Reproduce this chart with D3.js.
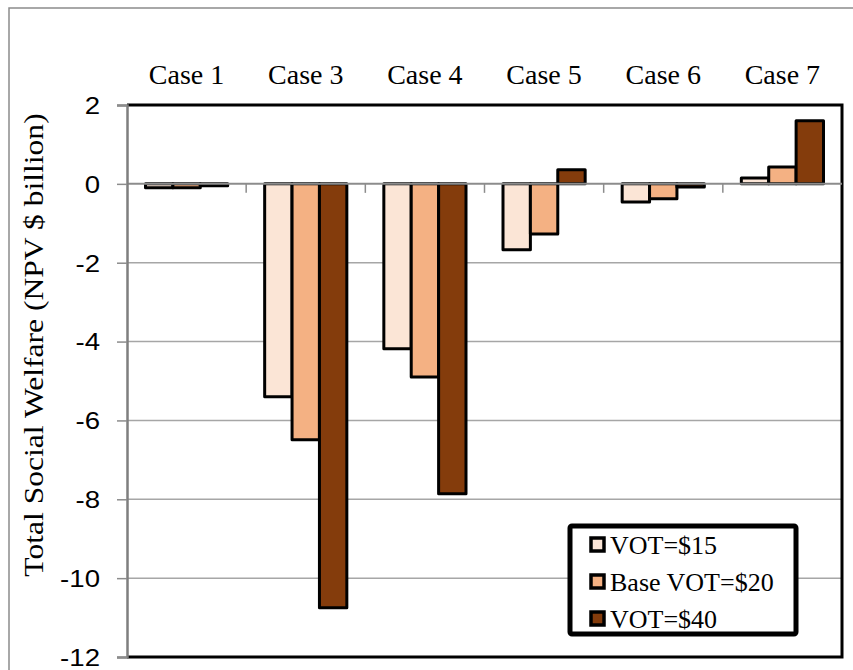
<!DOCTYPE html>
<html><head><meta charset="utf-8">
<script src="https://cdn.jsdelivr.net/npm/d3@7"></script>
<style>
body{margin:0;background:#fff}svg{display:block}
.serif{font-family:"Liberation Serif","Times New Roman",Times,Tinos,"DejaVu Serif",serif;}
.sans{font-family:"Liberation Sans",Arial,Helvetica,sans-serif;}
</style>
</head><body>
<svg id="chart" width="853" height="670"></svg>
<script>
const cases = ["Case 1","Case 3","Case 4","Case 5","Case 6","Case 7"];
const seriesNames = ["VOT=$15","Base VOT=$20","VOT=$40"];
const vot15 = [-0.1, -5.40, -4.18, -1.67, -0.46, 0.15];
const vot20 = [-0.1, -6.49, -4.90, -1.27, -0.38, 0.43];
const vot40 = [-0.05, -10.75, -7.86, 0.36, -0.08, 1.60];
const colors = ["#FBE5D6","#F4B183","#843C0C"];
const yTicks = [2,0,-2,-4,-6,-8,-10,-12];

const svg = d3.select("#chart");
const L = 127, R = 842, T = 105, B = 657;
const x0 = d3.scaleBand().domain(cases).range([L,R]).padding(0);
const x1 = d3.scaleBand().domain(seriesNames).range([18.5, x0.bandwidth()-18.5]).padding(0);
const y = d3.scaleLinear().domain([-12,2]).range([B,T]);
const data = [vot15, vot20, vot40];

// outer frame (only top and left edges fall inside the picture)
svg.append("path").attr("d","M9,670V8H853")
  .attr("fill","none").attr("stroke","#8c8c8c").attr("stroke-width",1.5);

// gridlines
svg.append("g").selectAll("line").data(yTicks.filter(d=>d<0 && d>-12)).join("line")
  .attr("x1",L).attr("x2",R).attr("y1",d=>y(d)).attr("y2",d=>y(d))
  .attr("stroke","#a6a6a6").attr("stroke-width",1.5);

// plot border top/right/bottom
svg.append("path").attr("d",`M${L},${T}H${R}V${B}H${L}`).attr("fill","none")
  .attr("stroke","#000").attr("stroke-width",3);

// bars
const bars = [];
cases.forEach((c,i)=>seriesNames.forEach((s,j)=>bars.push({c,s,j,v:data[j][i]})));
svg.append("g").selectAll("rect").data(bars).join("rect")
  .attr("x",d=>x0(d.c)+x1(d.s))
  .attr("width",x1.bandwidth())
  .attr("y",d=>Math.min(y(d.v),y(0)))
  .attr("height",d=>Math.abs(y(d.v)-y(0)))
  .attr("fill",d=>colors[d.j])
  .attr("stroke","#000").attr("stroke-width",3).attr("stroke-linejoin","round");

// zero axis line with category ticks
svg.append("line").attr("x1",L).attr("x2",R).attr("y1",y(0)).attr("y2",y(0))
  .attr("stroke","#8c8c8c").attr("stroke-width",2);
const bounds = cases.slice(1).map(c=>x0(c));
svg.append("g").selectAll("line").data(bounds).join("line")
  .attr("x1",d=>d).attr("x2",d=>d).attr("y1",y(0)).attr("y2",y(0)+9)
  .attr("stroke","#8c8c8c").attr("stroke-width",1.5);

// y axis
const yAxis = d3.axisLeft(y).tickValues(yTicks).tickSize(10).tickPadding(17).tickFormat(d3.format("d"));
const ga = svg.append("g").attr("transform",`translate(${L},0)`).call(yAxis);
ga.attr("font-family",null).attr("font-size",null);
ga.select(".domain").attr("stroke","#7f7f7f").attr("stroke-width",2.5);
ga.selectAll(".tick line").attr("stroke","#8c8c8c").attr("stroke-width",1.5);
ga.selectAll(".tick text").attr("class","sans")
  .attr("x",0).attr("transform","translate(-27,0) scale(1.15,1)")
  .attr("font-size",24).attr("fill","#000").attr("dy","0.35em")
  .text(d=>d<0 ? "-"+Math.abs(d) : d);

// case labels on top
svg.append("g").selectAll("text").data(cases).join("text")
  .attr("class","serif")
  .attr("x",d=>x0(d)+x0.bandwidth()/2).attr("y",84)
  .attr("text-anchor","middle")
  .attr("font-size",28).attr("fill","#000").text(d=>d);

// y title
svg.append("text").attr("class","serif").attr("transform","translate(43,345) rotate(-90) scale(1.17,1)")
  .attr("text-anchor","middle")
  .attr("font-size",27).attr("fill","#000").text("Total Social Welfare (NPV $ billion)");

// legend
const lg = svg.append("g");
lg.append("rect").attr("x",570).attr("y",526).attr("width",226).attr("height",108).attr("rx",2)
  .attr("fill","#fff").attr("stroke","#000").attr("stroke-width",5);
const rowY = [545,582,619];
seriesNames.forEach((s,j)=>{
  lg.append("rect").attr("x",591).attr("y",rowY[j]-7).attr("width",13).attr("height",13)
    .attr("fill",colors[j]).attr("stroke","#000").attr("stroke-width",3.5);
  lg.append("text").attr("class","serif").attr("x",610).attr("y",rowY[j]).attr("dy","0.35em")
    .attr("font-size",26).attr("fill","#000").text(s);
});
</script>
</body></html>
